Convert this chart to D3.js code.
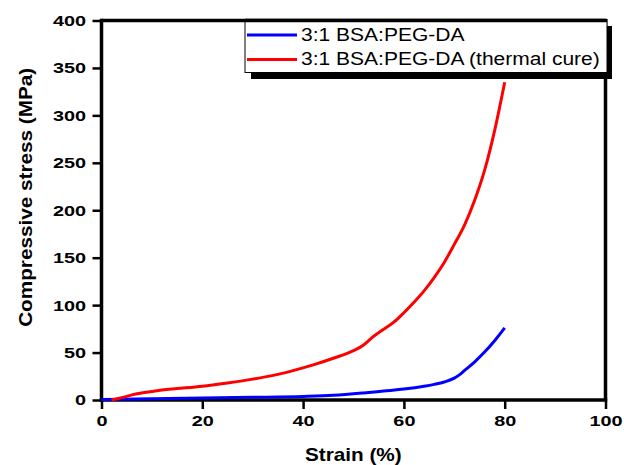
<!DOCTYPE html>
<html><head><meta charset="utf-8">
<script src="https://cdn.jsdelivr.net/npm/d3@7"></script>
<style>body{margin:0;background:#fff}svg{display:block}</style>
</head><body>
<svg id="c" width="624" height="465"></svg>
<script>
// ---- data ----
const xTicks = [0, 20, 40, 60, 80, 100];
const yTicks = [0, 50, 100, 150, 200, 250, 300, 350, 400];
const seriesNames = ["3:1 BSA:PEG-DA", "3:1 BSA:PEG-DA (thermal cure)"];
const seriesColors = ["#0000ff", "#ff0000"];
const blueX = [0, 10, 20, 30, 40, 46, 52, 56, 60, 64, 66, 68, 70, 71, 72, 74, 76, 78, 80];
const blueY = [0.5, 1.2, 2, 2.8, 3.8, 5, 7.5, 9.5, 11.5, 14.5, 16.5, 19, 23, 26.5, 31, 40, 50.5, 62.5, 76];
const redX = [2, 4, 7, 10, 12, 15, 20, 25, 30, 35, 38, 42, 46, 50, 52, 53.5, 55, 58, 60, 62, 64, 66, 68, 70, 72, 74, 76, 78, 80];
const redY = [0, 2.5, 6.5, 9, 10.5, 12, 14.5, 18, 22, 27, 31, 37, 44, 52, 58, 65, 71, 82, 92, 103, 115, 129, 145, 164, 184, 210, 242, 284, 335];

const svg = d3.select("#c");
const x = d3.scaleLinear().domain([0, 100]).range([101.5, 605.5]);
const y = d3.scaleLinear().domain([0, 400]).range([400, 20.5]);
const FONT = "'Liberation Sans', Arial, sans-serif";

function stretch(sel, k) {
  sel.each(function () {
    const l = this.getComputedTextLength();
    this.setAttribute("textLength", l * k);
    this.setAttribute("lengthAdjust", "spacingAndGlyphs");
  });
}

// frame top/right
svg.append("line").attr("x1", x(0)).attr("x2", x(100)).attr("y1", y(400)).attr("y2", y(400))
  .attr("stroke", "#000").attr("stroke-width", 3.5);
svg.append("line").attr("x1", x(100)).attr("x2", x(100)).attr("y1", y(400) - 1.5).attr("y2", y(0))
  .attr("stroke", "#000").attr("stroke-width", 3.5);

// axes
const gx = svg.append("g").attr("transform", `translate(0,${y(0)})`)
  .call(d3.axisBottom(x).tickValues(xTicks).tickSize(9).tickSizeOuter(0).tickPadding(6).tickFormat(d3.format("d")));
const gy = svg.append("g").attr("transform", `translate(${x(0)},0)`)
  .call(d3.axisLeft(y).tickValues(yTicks).tickSize(9).tickSizeOuter(0).tickPadding(6.5).tickFormat(d3.format("d")));
[gx, gy].forEach(g => {
  g.select(".domain").attr("stroke", "#000").attr("stroke-width", 3.5);
  g.selectAll(".tick line").attr("stroke", "#000").attr("stroke-width", 2.5);
  g.selectAll(".tick text").attr("fill", "#000").style("font-family", FONT)
    .style("font-size", "15.5px").style("font-weight", "bold");
});
gy.select(".domain").attr("d", `M0,${y(0) + 1.75}V${y(400) - 1.75}`);
gx.select(".domain").attr("d", `M${x(0) - 1.75},0H${x(100) + 1.75}`);
stretch(gx.selectAll(".tick text"), 1.28);
stretch(gy.selectAll(".tick text"), 1.28);

// titles
const xt = svg.append("text").attr("x", 353.3).attr("y", 461).attr("text-anchor", "middle")
  .style("font-family", FONT).style("font-size", "18.5px").style("font-weight", "bold").text("Strain (%)");
stretch(xt, 1.12);
const yt = svg.append("text").attr("transform", "translate(32,197.3) rotate(-90)").attr("text-anchor", "middle")
  .style("font-family", FONT).style("font-size", "18.5px").style("font-weight", "bold").text("Compressive stress (MPa)");
stretch(yt, 1.12);

// curves
const line = d3.line().x(d => x(d[0])).y(d => y(d[1])).curve(d3.curveMonotoneX);
const series = [blueX.map((v, i) => [v, blueY[i]]), redX.map((v, i) => [v, redY[i]])];
series.forEach((s, i) => {
  svg.append("path").attr("d", line(s)).attr("fill", "none")
    .attr("stroke", seriesColors[i]).attr("stroke-width", 3).attr("stroke-linejoin", "round");
});

// legend
const lg = svg.append("g");
lg.append("rect").attr("x", 251).attr("y", 26).attr("width", 361).attr("height", 53).attr("fill", "#000");
lg.append("rect").attr("x", 245).attr("y", 19.5).attr("width", 362).attr("height", 53)
  .attr("fill", "#fff").attr("stroke", "#000").attr("stroke-width", 1);
svg.append("line").attr("x1", 245).attr("x2", 607).attr("y1", 20.5).attr("y2", 20.5)
  .attr("stroke", "#000").attr("stroke-width", 3.5);
seriesNames.forEach((name, i) => {
  const yy = 35 + i * 24.5;
  lg.append("line").attr("x1", 247).attr("x2", 297).attr("y1", yy).attr("y2", yy)
    .attr("stroke", seriesColors[i]).attr("stroke-width", 3);
  const t = lg.append("text").attr("x", 301).attr("y", yy + 5.8)
    .style("font-family", FONT).style("font-size", "17.5px").attr("fill", "#000").text(name);
  stretch(t, 1.2);
});
</script>
</body></html>
